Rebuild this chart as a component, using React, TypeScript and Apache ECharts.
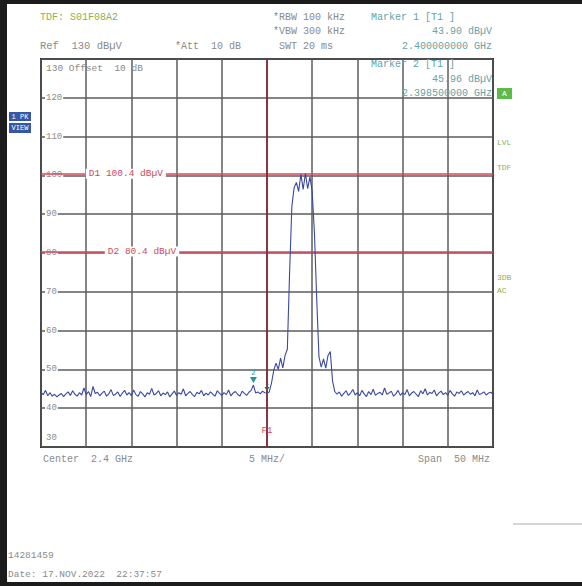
import React, { useEffect, useRef } from "react";
import * as echarts from "echarts";

// Sweep: 2375 .. 2425 MHz (center 2.4 GHz, span 50 MHz), one reading every 0.25 MHz
const START_MHZ = 2375;
const STEP_MHZ = 0.25;
const LEVELS_DBUV = [
  // 2375.00 .. 2399.75
  44.1, 43.5, 44.6, 43.2, 44.0, 43.1, 43.6, 42.9, 43.4, 43.8, 43.0, 43.7, 44.2, 43.3, 44.5, 43.6, 43.1, 44.0, 43.4, 45.2,
  43.5, 44.3, 43.0, 45.6, 43.8, 44.1, 43.2, 43.9, 44.4, 43.1, 43.7, 44.8, 43.3, 43.6, 44.2, 43.0, 43.9, 44.6, 43.4, 44.0,
  43.2, 44.7, 43.5, 43.1, 44.3, 43.7, 42.9, 44.0, 43.6, 45.1, 43.4, 43.8, 44.5, 43.2, 43.9, 43.5, 44.2, 42.9, 43.7, 44.4,
  43.3, 44.0, 43.6, 45.0, 43.2, 43.8, 44.3, 43.5, 43.0, 44.1, 43.7, 44.6, 43.2, 43.9, 43.4, 44.2, 43.6, 43.1, 44.5, 43.8,
  43.3, 44.0, 43.5, 44.7, 43.2, 43.9, 44.3, 43.6, 43.1, 44.4, 43.8, 43.3, 44.1, 44.6, 45.96, 43.9, 44.2, 43.7, 44.4, 44.0,
  // 2400.00 .. 2407.50 (signal)
  43.9, 44.2, 46.5, 49.8, 51.6, 50.0, 52.9, 50.4, 53.6, 55.2,
  75.0, 92.0, 96.8, 98.2, 95.9, 100.3, 96.4, 100.5, 96.6, 99.6,
  95.8, 85.0, 68.0, 53.2, 50.6, 52.7, 50.3, 53.6, 54.6, 47.0, 44.3,
  // 2407.75 .. 2425.00
  43.6, 44.2, 43.1, 43.8, 44.5, 43.3, 43.9, 44.8, 43.4, 44.0,
  43.2, 44.6, 43.7, 43.0, 44.3, 43.5, 44.9, 43.3, 43.8, 44.1,
  43.4, 45.2, 43.6, 43.9, 44.4, 43.1, 43.7, 44.6, 43.3, 44.0,
  43.5, 44.8, 43.2, 43.9, 44.3, 43.6, 43.0, 44.5, 43.7, 45.0,
  43.4, 44.1, 43.8, 44.7, 43.2, 43.9, 44.4, 43.5, 44.0, 43.3,
  44.6, 43.7, 43.1, 44.2, 43.8, 44.5, 43.4, 43.9, 44.3, 43.6,
  44.0, 43.2, 44.7, 43.5, 43.8, 44.2, 43.4, 43.9, 44.1, 43.6,
];

const Y_MIN = 30;
const Y_MAX = 130;
const Y_STEP = 10;
const X_MIN = 2375;
const X_MAX = 2425;
const X_STEP = 5;

const D1_LEVEL = 100.4;
const D2_LEVEL = 80.4;
const F1_MHZ = 2400;
const MARKER1: [number, number] = [2400, 43.9];
const MARKER2: [number, number] = [2398.5, 45.96];

const MONO = "'Liberation Mono', 'DejaVu Sans Mono', monospace";
const GRAY = "#8a8a8a";
const TEAL = "#5fa4a8";
const OLIVE = "#8db04f";
const RED = "#d4485a";

function txt(text: string, x: number, y: number, fill: string, size = 10, align = "left") {
  return {
    type: "text",
    x,
    y,
    silent: true,
    z: 130,
    style: { text, fill, font: `${size}px ${MONO}`, align, verticalAlign: "middle" },
  };
}

export default function App() {
  const ref = useRef<HTMLDivElement>(null);

  useEffect(() => {
    const chart = echarts.init(ref.current!, null, { renderer: "svg" });
    const trace = LEVELS_DBUV.map((v, i) => [START_MHZ + i * STEP_MHZ, v]);

    const hiddenPoint = { symbol: "circle", symbolSize: 1, itemStyle: { color: "rgba(0,0,0,0)" } };

    chart.setOption({
      animation: false,
      backgroundColor: "#ffffff",
      grid: {
        left: 41,
        top: 59,
        width: 452,
        height: 388,
        show: true,
        borderColor: "#1e1e1e",
        borderWidth: 2,
        backgroundColor: "transparent",
      },
      xAxis: {
        type: "value",
        min: X_MIN,
        max: X_MAX,
        interval: X_STEP,
        axisLine: { show: false },
        axisTick: { show: false },
        axisLabel: { show: false },
        splitLine: { show: true, lineStyle: { color: "#5c5c5c", width: 1.5 } },
      },
      yAxis: {
        type: "value",
        min: Y_MIN,
        max: Y_MAX,
        interval: Y_STEP,
        axisLine: { show: false },
        axisTick: { show: false },
        axisLabel: {
          inside: true,
          margin: 4,
          color: "#8c8c8c",
          fontFamily: MONO,
          fontSize: 9,
          backgroundColor: "#ffffff",
          padding: [0, 1],
          formatter: (v: number) => (v === Y_MIN || v === Y_MAX ? "" : String(v)),
        },
        splitLine: { show: true, lineStyle: { color: "#5c5c5c", width: 1.5 } },
      },
      series: [
        {
          type: "line",
          data: trace,
          showSymbol: false,
          symbol: "none",
          lineStyle: { color: "#3b48a2", width: 1.1 },
          z: 5,
          markLine: {
            silent: true,
            symbol: ["none", "none"],
            label: { show: false },
            z: 4,
            data: [
              { yAxis: D1_LEVEL, lineStyle: { color: RED, width: 1.5, type: "solid" } },
              { yAxis: D2_LEVEL, lineStyle: { color: RED, width: 1.5, type: "solid" } },
              { xAxis: F1_MHZ, lineStyle: { color: "#8a1c30", width: 1.5, type: "solid" } },
            ],
          },
          markPoint: {
            silent: true,
            z: 6,
            data: [
              {
                ...hiddenPoint,
                coord: [2379.9, D1_LEVEL],
                label: {
                  show: true,
                  position: "right",
                  distance: 0,
                  formatter: "D1 100.4 dBµV",
                  color: RED,
                  fontFamily: MONO,
                  fontSize: 9.5,
                  backgroundColor: "#ffffff",
                  padding: [0, 3],
                },
              },
              {
                ...hiddenPoint,
                coord: [2382.0, D2_LEVEL],
                label: {
                  show: true,
                  position: "right",
                  distance: 0,
                  formatter: "D2 80.4 dBµV",
                  color: RED,
                  fontFamily: MONO,
                  fontSize: 9.5,
                  backgroundColor: "#ffffff",
                  padding: [0, 3],
                },
              },
              {
                ...hiddenPoint,
                coord: [F1_MHZ, 34.2],
                label: {
                  show: true,
                  position: "inside",
                  formatter: "F1",
                  color: RED,
                  fontFamily: MONO,
                  fontSize: 9,
                },
              },
              {
                coord: MARKER2,
                symbol: "triangle",
                symbolRotate: 180,
                symbolSize: [7, 6],
                symbolOffset: [0, -5],
                itemStyle: { color: "#2a9494" },
                label: {
                  show: true,
                  position: "top",
                  distance: 1,
                  formatter: "2",
                  color: "#2a9494",
                  fontFamily: MONO,
                  fontSize: 7,
                },
              },
              {
                coord: MARKER1,
                symbol: "triangle",
                symbolRotate: 180,
                symbolSize: [5, 4],
                symbolOffset: [0, -4],
                itemStyle: { color: "#35604f" },
                label: {
                  show: true,
                  position: "top",
                  distance: 1,
                  formatter: "1",
                  color: "#35604f",
                  fontFamily: MONO,
                  fontSize: 6,
                },
              },
            ],
          },
        },
      ],
      graphic: [
        // frame
        { type: "rect", silent: true, z: 120, shape: { x: 0, y: 0, width: 7, height: 586 }, style: { fill: "#1c1c1c" } },
        { type: "rect", silent: true, z: 120, shape: { x: 0, y: 0, width: 582, height: 4 }, style: { fill: "#1c1c1c" } },
        { type: "rect", silent: true, z: 120, shape: { x: 0, y: 582, width: 582, height: 4 }, style: { fill: "#1c1c1c" } },
        // header
        txt("TDF: S01F08A2", 40, 17, OLIVE, 10),
        txt("Ref  130 dBµV", 40, 46, GRAY, 10.5),
        txt("*Att  10 dB", 175, 46, GRAY, 10),
        txt("*RBW 100 kHz", 273, 17, GRAY, 10),
        txt("*VBW 300 kHz", 273, 31, GRAY, 10),
        txt(" SWT 20 ms", 273, 46, GRAY, 10),
        txt("Marker 1 [T1 ]", 371, 17, TEAL, 10),
        txt("43.90 dBµV", 492, 31, TEAL, 10, "right"),
        txt("2.400000000 GHz", 492, 46, TEAL, 10, "right"),
        txt("Marker 2 [T1 ]", 371, 64, TEAL, 10),
        txt("45.96 dBµV", 492, 79, TEAL, 10, "right"),
        txt("2.398500000 GHz", 492, 93, TEAL, 10, "right"),
        // in-plot texts
        txt("130 Offset  10 dB", 46, 68, GRAY, 9.5),
        txt("30", 46, 438, GRAY, 9),
        // side badges
        { type: "rect", silent: true, z: 110, shape: { x: 497, y: 88, width: 15, height: 11 }, style: { fill: "#5dbb4a" } },
        txt("A", 504.5, 93.5, "#ffffff", 8, "center"),
        { type: "rect", silent: true, z: 110, shape: { x: 9, y: 112, width: 22, height: 9 }, style: { fill: "#3557a6" } },
        txt("1 PK", 20, 116.5, "#ffffff", 7, "center"),
        { type: "rect", silent: true, z: 110, shape: { x: 9, y: 123, width: 22, height: 10 }, style: { fill: "#3557a6" } },
        txt("VIEW", 20, 128, "#ffffff", 7, "center"),
        txt("LVL", 497, 142, OLIVE, 8),
        txt("TDF", 497, 167, OLIVE, 8),
        txt("3DB", 497, 277, OLIVE, 8),
        txt("AC", 497, 290, OLIVE, 8),
        // footer
        txt("Center  2.4 GHz", 43, 459, GRAY, 10),
        txt("5 MHz/", 249, 459, GRAY, 10),
        txt("Span  50 MHz", 490, 459, GRAY, 10, "right"),
        txt("14281459", 8, 555, GRAY, 9.5),
        txt("Date: 17.NOV.2022  22:37:57", 8, 574, GRAY, 9.5),
        {
          type: "line",
          silent: true,
          shape: { x1: 513, y1: 524, x2: 582, y2: 524 },
          style: { stroke: "#aaaaaa", lineWidth: 1 },
        },
      ],
    });

    return () => chart.dispose();
  }, []);

  return (
    <div
      ref={ref}
      style={{ position: "fixed", left: 0, top: 0, width: 582, height: 586, background: "#ffffff" }}
    />
  );
}
